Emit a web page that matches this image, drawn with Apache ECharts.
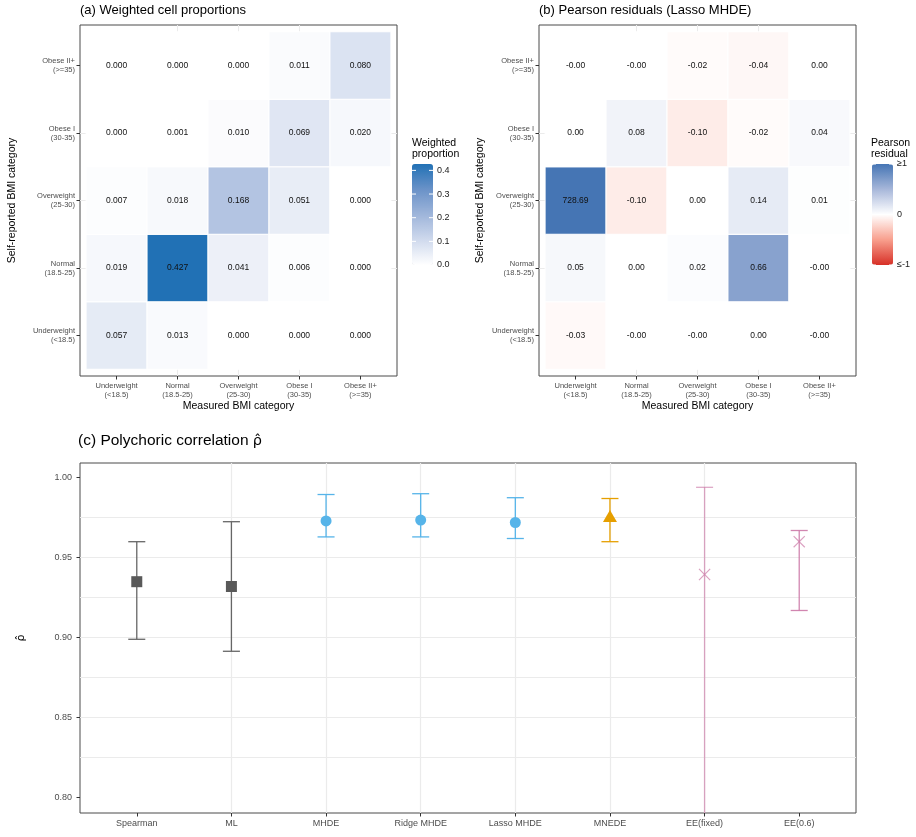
<!DOCTYPE html>
<html>
<head>
<meta charset="utf-8">
<title>BMI self-report vs measured</title>
<script src="https://cdn.jsdelivr.net/npm/echarts@6/dist/echarts.min.js"></script>
<style>
  html, body { margin: 0; padding: 0; background: #fff; }
  #chart { width: 916px; height: 837px; }
</style>
</head>
<body>
<div id="chart"></div>
<script>
// BMI categories, used for both axes of the two heatmaps
const bmiCategories = ['Underweight\n(<18.5)', 'Normal\n(18.5-25)', 'Overweight\n(25-30)', 'Obese I\n(30-35)', 'Obese II+\n(>=35)']

// (a) weighted cell proportions: one array per self-reported category, values by measured category
const propUnderweight = [0.057, 0.013, 0.000, 0.000, 0.000]
const propNormal = [0.019, 0.427, 0.041, 0.006, 0.000]
const propOverweight = [0.007, 0.018, 0.168, 0.051, 0.000]
const propObeseI = [0.000, 0.001, 0.010, 0.069, 0.020]
const propObeseII = [0.000, 0.000, 0.000, 0.011, 0.080]
const propTicks = [0, 0.1, 0.2, 0.3, 0.4]

// (b) Pearson residuals (Lasso MHDE), same layout
const residUnderweight = [-0.03, -0.002, -0.002, 0.002, -0.002]
const residNormal = [0.05, 0.002, 0.02, 0.66, -0.002]
const residOverweight = [728.69, -0.10, 0.002, 0.14, 0.01]
const residObeseI = [0.002, 0.08, -0.10, -0.02, 0.04]
const residObeseII = [-0.002, -0.002, -0.02, -0.04, 0.002]
const residTicks = [-1, 0, 1]
const residTickLabels = ['≤-1', '0', '≥1']

// (c) polychoric correlation estimates with intervals
const methods = ['Spearman', 'ML', 'MHDE', 'Ridge MHDE', 'Lasso MHDE', 'MNEDE', 'EE(fixed)', 'EE(0.6)']
const rhoEst = [0.935, 0.932, 0.973, 0.9735, 0.972, 0.976, 0.9395, 0.960]
const rhoLower = [0.899, 0.8915, 0.963, 0.963, 0.962, 0.960, 0.70, 0.917]
const rhoUpper = [0.960, 0.9725, 0.9895, 0.990, 0.9875, 0.987, 0.994, 0.967]
const rhoTicks = [0.80, 0.85, 0.90, 0.95, 1.00]

// styles
const FONT = 'Liberation Sans'
const AXIS_TEXT = '#4d4d4d'
const GRID_LINE = '#ebebeb'
const FRAME = '#4a4a4a'
const propColors = ['#ffffff', '#cfd9ed', '#9eb5da', '#6a92c8', '#2171b5']
const residColors = ['#d73027', '#f89f8d', '#ffffff', '#a7b7da', '#4575b4']
const barColors = ['#666666', '#666666', '#56b4e9', '#56b4e9', '#56b4e9', '#e69f00', 'rgba(204,121,167,0.65)', 'rgba(204,121,167,0.9)']
const crossPath = 'path://M0,0.7 L0.7,0 L5,4.3 L9.3,0 L10,0.7 L5.7,5 L10,9.3 L9.3,10 L5,5.7 L0.7,10 L0,9.3 L4.3,5 Z'
const markerSymbols = ['rect', 'rect', 'circle', 'circle', 'circle', 'triangle', crossPath, crossPath]
const markerSizes = [11, 11, 11, 11, 11, [14, 12], 12, 12]
const markerColors = ['#595959', '#595959', '#56b4e9', '#56b4e9', '#56b4e9', '#e69f00', 'rgba(204,121,167,0.7)', 'rgba(204,121,167,0.7)']
const CAP_WIDTH = 0.18

const catIndex = [1, 2, 3, 4, 5]
const methodIndex = methods.map((m, i) => i + 1)

// [measured, self-reported, colour value, printed value]
const toCells = (rows, squish) =>
  rows.flatMap((row, r) => row.map((v, c) => [c + 1, r + 1, squish(v), v]))

const propCells = toCells([propUnderweight, propNormal, propOverweight, propObeseI, propObeseII], v => v)
const residCells = toCells([residUnderweight, residNormal, residOverweight, residObeseI, residObeseII],
  v => Math.max(-1, Math.min(1, v)))

const chart = echarts.init(document.getElementById('chart'), null, { renderer: 'canvas' })

const titleText = (text, left, top, size, lineHeight) => ({
  text, left, top, padding: 0,
  textStyle: {
    fontFamily: FONT, fontSize: size, fontWeight: 'normal', color: '#000', lineHeight,
    rich: { rho: { fontFamily: 'DejaVu Sans', fontSize: size - 1, color: '#000' } }
  }
})

const frameGrid = (left, top, width, height) => ({
  left, top, width, height, show: true, borderColor: FRAME, borderWidth: 1,
  backgroundColor: 'transparent', outerBoundsMode: 'none'
})

const heatAxis = (gridIndex, name, nameGap, isY) => ({
  type: 'value', gridIndex, min: 0.4, max: 5.6, minInterval: 1, maxInterval: 1,
  name, nameLocation: 'middle', nameGap,
  nameTextStyle: { fontFamily: FONT, fontSize: 10.5, color: '#000' },
  axisLine: { show: false },
  axisTick: { show: true, customValues: catIndex, length: 3.5, lineStyle: { color: '#333' } },
  axisLabel: {
    customValues: catIndex, formatter: v => bmiCategories[Math.round(v) - 1],
    fontFamily: FONT, fontSize: 7.5, color: AXIS_TEXT, lineHeight: 9, margin: 5,
    align: isY ? 'right' : 'center'
  },
  splitLine: { show: true, showMinLine: false, showMaxLine: false, lineStyle: { color: GRID_LINE, width: 1 } }
})

const legendAxis = (gridIndex, min, max, ticks, formatter) => ({
  type: 'value', gridIndex, position: 'right', min, max,
  axisLine: { show: false },
  axisTick: { show: false },
  axisLabel: { show: true, customValues: ticks, formatter, margin: 4, fontFamily: FONT, fontSize: 9, color: '#1a1a1a' },
  splitLine: { show: false }
})

const renderTile = digits => (params, api) => {
  const c = api.coord([api.value(0), api.value(1)])
  const s = api.size([1, 1])
  return {
    type: 'group',
    children: [
      {
        type: 'rect',
        shape: { x: c[0] - s[0] / 2, y: c[1] - s[1] / 2, width: s[0], height: s[1] },
        style: { fill: api.visual('color'), stroke: '#fff', lineWidth: 1 }
      },
      {
        type: 'text', x: c[0], y: c[1],
        style: {
          text: api.value(3).toFixed(digits), align: 'center', verticalAlign: 'middle',
          fill: '#111', fontSize: 8.5, fontFamily: FONT
        }
      }
    ]
  }
}

// white tick marks on both edges of a colour bar
const renderBarTick = (params, api) => {
  const p = api.coord([0, api.value(0)])
  const cs = params.coordSys
  const style = { stroke: '#fff', lineWidth: 1 }
  return {
    type: 'group',
    children: [
      { type: 'line', shape: { x1: cs.x, y1: p[1], x2: cs.x + 4, y2: p[1] }, style },
      { type: 'line', shape: { x1: cs.x + cs.width - 4, y1: p[1], x2: cs.x + cs.width, y2: p[1] }, style }
    ]
  }
}

// vertical interval with caps, clipped to the panel
const renderErrorBar = (params, api) => {
  const x = api.value(0)
  const lo = api.coord([x, api.value(1)])
  const hi = api.coord([x, api.value(2)])
  const half = api.size([CAP_WIDTH, 0])[0] / 2
  const cs = params.coordSys
  const bottom = cs.y + cs.height
  const style = { stroke: barColors[params.dataIndex], lineWidth: 1.3 }
  const children = [{
    type: 'line',
    shape: { x1: lo[0], y1: Math.min(lo[1], bottom), x2: hi[0], y2: Math.max(hi[1], cs.y) },
    style
  }]
  if (hi[1] >= cs.y) children.push({ type: 'line', shape: { x1: hi[0] - half, y1: hi[1], x2: hi[0] + half, y2: hi[1] }, style })
  if (lo[1] <= bottom) children.push({ type: 'line', shape: { x1: lo[0] - half, y1: lo[1], x2: lo[0] + half, y2: lo[1] }, style })
  return { type: 'group', children }
}

const option = {
  backgroundColor: '#fff',
  animation: false,
  textStyle: { fontFamily: FONT },
  title: [
    titleText('(a) Weighted cell proportions', 80, 4, 13),
    titleText('(b) Pearson residuals (Lasso MHDE)', 539, 4, 13),
    titleText('(c) Polychoric correlation {rho|ρ̂}', 78, 433, 15.5),
    titleText('Weighted\nproportion', 412, 137, 10.5, 11.5),
    titleText('Pearson\nresidual', 871, 137, 10.5, 11.5)
  ],
  grid: [
    frameGrid(80, 25, 317, 351),
    frameGrid(539, 25, 317, 351),
    frameGrid(80, 463, 776, 350),
    { left: 412, top: 164, width: 21, height: 101, show: false, outerBoundsMode: 'none' },
    { left: 872, top: 164, width: 21, height: 101, show: false, outerBoundsMode: 'none' }
  ],
  xAxis: [
    heatAxis(0, 'Measured BMI category', 25, false),
    heatAxis(1, 'Measured BMI category', 25, false),
    {
      type: 'value', gridIndex: 2, min: 0.4, max: 8.6, minInterval: 1, maxInterval: 1,
      axisLine: { show: false },
      axisTick: { show: true, customValues: methodIndex, length: 3.5, lineStyle: { color: '#333' } },
      axisLabel: {
        customValues: methodIndex, formatter: v => methods[Math.round(v) - 1],
        fontFamily: FONT, fontSize: 9, color: AXIS_TEXT, margin: 6
      },
      splitLine: { show: true, showMinLine: false, showMaxLine: false, lineStyle: { color: GRID_LINE, width: 1.2 } }
    },
    { type: 'value', gridIndex: 3, show: false, min: 0, max: 1 },
    { type: 'value', gridIndex: 4, show: false, min: 0, max: 1 }
  ],
  yAxis: [
    heatAxis(0, 'Self-reported BMI category', 62, true),
    heatAxis(1, 'Self-reported BMI category', 53, true),
    {
      type: 'value', gridIndex: 2, min: 0.7904, max: 1.0092,
      name: 'ρ̂', nameLocation: 'middle', nameGap: 53, nameRotate: 90,
      nameTextStyle: { fontFamily: 'DejaVu Sans', fontSize: 11, color: '#000' },
      axisLine: { show: false },
      axisTick: { show: true, customValues: rhoTicks, length: 3.5, lineStyle: { color: '#333' } },
      axisLabel: {
        customValues: rhoTicks, formatter: v => v.toFixed(2),
        fontFamily: FONT, fontSize: 9, color: AXIS_TEXT, margin: 8
      },
      splitLine: { show: true, showMinLine: false, showMaxLine: false, lineStyle: { color: GRID_LINE, width: 1.2 } },
      minorTick: { show: false, splitNumber: 2 },
      minorSplitLine: { show: true, lineStyle: { color: GRID_LINE, width: 1 } }
    },
    legendAxis(3, 0, 0.427, propTicks, v => v.toFixed(1)),
    legendAxis(4, -1, 1, residTicks, v => residTickLabels[residTicks.indexOf(Math.round(v))])
  ],
  visualMap: [
    {
      type: 'continuous', seriesIndex: 0, dimension: 2, min: 0, max: 0.427, z: 2,
      calculable: false, hoverLink: false, left: 412, top: 164, padding: 0,
      itemWidth: 21, itemHeight: 101, inRange: { color: propColors }
    },
    {
      type: 'continuous', seriesIndex: 1, dimension: 2, min: -1, max: 1, z: 2,
      calculable: false, hoverLink: false, left: 872, top: 164, padding: 0,
      itemWidth: 21, itemHeight: 101, inRange: { color: residColors }
    }
  ],
  series: [
    {
      type: 'custom', xAxisIndex: 0, yAxisIndex: 0, data: propCells,
      encode: { x: 0, y: 1 }, renderItem: renderTile(3)
    },
    {
      type: 'custom', xAxisIndex: 1, yAxisIndex: 1, data: residCells,
      encode: { x: 0, y: 1 }, renderItem: renderTile(2)
    },
    {
      type: 'custom', xAxisIndex: 2, yAxisIndex: 2,
      data: methods.map((m, i) => [i + 1, rhoLower[i], rhoUpper[i]]),
      encode: { x: 0, y: [1, 2] }, renderItem: renderErrorBar, z: 3
    },
    {
      type: 'scatter', xAxisIndex: 2, yAxisIndex: 2, z: 4,
      data: methods.map((m, i) => [i + 1, rhoEst[i]]),
      symbol: (val, params) => markerSymbols[params.dataIndex],
      symbolSize: (val, params) => markerSizes[params.dataIndex],
      itemStyle: { color: params => markerColors[params.dataIndex], opacity: 1 }
    },
    {
      type: 'custom', xAxisIndex: 3, yAxisIndex: 3, z: 10, silent: true,
      data: propTicks.map(v => [v]), encode: { y: 0 }, renderItem: renderBarTick
    },
    {
      type: 'custom', xAxisIndex: 4, yAxisIndex: 4, z: 10, silent: true,
      data: residTicks.map(v => [v]), encode: { y: 0 }, renderItem: renderBarTick
    }
  ]
}

chart.setOption(option)
</script>
</body>
</html>
